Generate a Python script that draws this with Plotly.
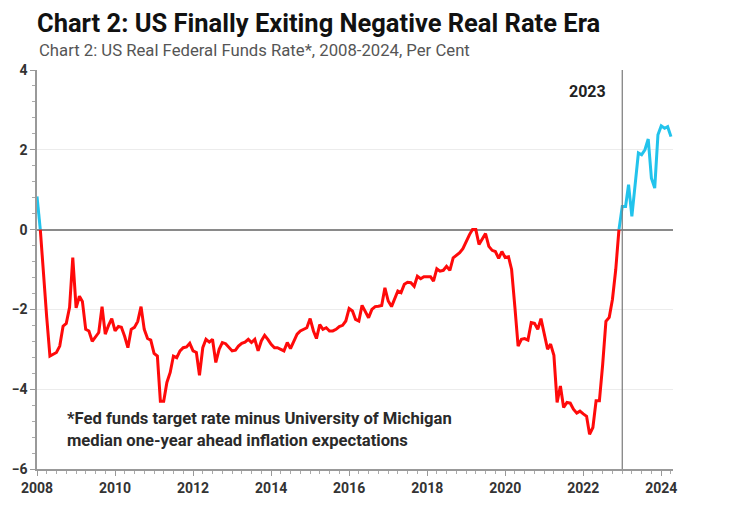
import pandas as pd
import plotly.graph_objects as go

# US real federal funds rate, monthly, Jan 2008 - Apr 2024 (per cent)
real_rate = [
    # 2008
    0.83, 0.0, -1.2, -2.2, -3.17, -3.12, -3.08, -2.92, -2.42, -2.35, -1.95, -0.7,
    # 2009
    -1.96, -1.67, -1.8, -2.5, -2.54, -2.8, -2.68, -2.58, -1.93, -2.62, -2.4, -2.23,
    # 2010
    -2.54, -2.43, -2.45, -2.68, -2.96, -2.5, -2.45, -2.3, -1.93, -2.5, -2.73, -2.77,
    # 2011
    -3.1, -3.17, -4.3, -4.3, -3.83, -3.58, -3.17, -3.21, -3.04, -2.96, -2.94, -2.85,
    # 2012
    -3.04, -3.08, -3.65, -2.96, -2.75, -2.82, -2.75, -3.33, -3.0, -2.83, -2.86, -2.96,
    # 2013
    -3.04, -3.02, -2.92, -2.85, -2.82, -2.75, -2.83, -2.75, -3.04, -2.79, -2.65, -2.75,
    # 2014
    -2.875, -2.96, -2.96, -3.0, -3.04, -2.83, -2.98, -2.8, -2.62, -2.54, -2.5, -2.46,
    # 2015
    -2.23, -2.54, -2.73, -2.38, -2.5, -2.46, -2.54, -2.54, -2.5, -2.43, -2.4, -2.29,
    # 2016
    -1.98, -2.04, -2.25, -2.29, -1.9, -2.08, -2.21, -2.0, -1.93, -1.92, -1.9, -1.46,
    # 2017
    -1.79, -1.93, -1.75, -1.54, -1.58, -1.37, -1.32, -1.33, -1.42, -1.17, -1.23, -1.18,
    # 2018
    -1.18, -1.18, -1.29, -0.98, -1.04, -1.02, -0.92, -1.02, -0.71, -0.65, -0.58, -0.48,
    # 2019
    -0.29, -0.125, 0.0, 0.0, -0.375, -0.22, -0.1, -0.42, -0.52, -0.55, -0.72, -0.55,
    # 2020
    -0.7, -0.68, -1.0, -1.95, -2.92, -2.75, -2.73, -2.77, -2.33, -2.35, -2.5, -2.23,
    # 2021
    -2.58, -3.0, -2.87, -3.15, -4.33, -3.92, -4.46, -4.33, -4.35, -4.5, -4.6, -4.55,
    # 2022
    -4.62, -4.68, -5.13, -4.96, -4.29, -4.29, -3.4, -2.3, -2.2, -1.75, -1.0, 0.0,
    # 2023
    0.58, 0.58, 1.125, 0.33, 1.1, 1.92, 1.875, 2.0, 2.27, 1.29, 1.04, 2.375,
    # 2024
    2.6, 2.54, 2.58, 2.33,
]
start_month = "2008-01-01"
marker_date = "2023-01-01"
marker_label = "2023"
year_ticks = [str(y) for y in range(2008, 2025, 2)]

title_text = "Chart 2: US Finally Exiting Negative Real Rate Era"
subtitle_text = "Chart 2: US Real Federal Funds Rate*, 2008-2024, Per Cent"
note_text = ("*Fed funds target rate minus University of Michigan<br>"
             "median one-year ahead inflation expectations")

RED = "#FF0A0A"
BLUE = "#22C3EC"
FONT = "Roboto, sans-serif"

# page body has an 8px margin; figure is sized to sit inside the 750x510 window
W, H = 742, 502
OFF = 8

months = pd.date_range(start_month, periods=len(real_rate), freq="MS")
neg = [v if v <= 0 else None for v in real_rate]
pos = [v if v >= 0 else None for v in real_rate]

fig = go.Figure()
fig.add_trace(go.Scatter(x=months, y=pos, mode="lines", connectgaps=False,
                         line=dict(color=BLUE, width=3), hoverinfo="skip",
                         showlegend=False))
fig.add_trace(go.Scatter(x=months, y=neg, mode="lines", connectgaps=False,
                         line=dict(color=RED, width=3), hoverinfo="skip",
                         showlegend=False))

fig.add_shape(type="line", xref="x", yref="paper", x0=marker_date, x1=marker_date,
              y0=0, y1=1, line=dict(color="#7a7a7a", width=1.2), layer="above")

fig.add_annotation(x=marker_date, y=3.45, xref="x", yref="y", text=marker_label,
                   showarrow=False, xanchor="right", yanchor="middle", xshift=-14,
                   font=dict(family=FONT, size=16, color="#222", weight=700))

fig.add_annotation(x=0.044, y=0.099, xref="paper", yref="paper", text=note_text,
                   showarrow=False, xanchor="left", yanchor="middle", align="left",
                   font=dict(family=FONT, size=16.6, color="#2a2a2a", weight=700))

fig.add_annotation(x=0, y=1.05, xref="paper", yref="paper", text=subtitle_text,
                   showarrow=False, xanchor="left", yanchor="middle",
                   font=dict(family=FONT, size=16.7, color="#555"))

fig.update_layout(
    width=W, height=H,
    margin=dict(l=37 - OFF, r=77, t=70 - OFF, b=41, autoexpand=False),
    paper_bgcolor="white", plot_bgcolor="white",
    title=dict(text=title_text, x=(37 - OFF) / W, xanchor="left",
               y=1 - 15 / H, yanchor="middle", xref="container",
               yref="container",
               font=dict(family=FONT, size=25.5, color="#111", weight=700)),
    xaxis=dict(type="date", range=[start_month, "2024-04-20"],
               tickvals=[f"{y}-01-01" for y in year_ticks], ticktext=year_ticks,
               showgrid=False, zeroline=False, showline=True, linecolor="#999",
               linewidth=1.5, ticks="outside", ticklen=5, tickcolor="#999",
               minor=dict(dtick="M3", tick0=start_month, ticks="outside", ticklen=3,
                          tickcolor="#aaa", showgrid=False),
               tickfont=dict(family=FONT, size=14, color="#333", weight=700)),
    yaxis=dict(range=[-6, 4], dtick=2, tick0=0, showgrid=True, gridcolor="#ececec",
               gridwidth=1, zeroline=True, zerolinecolor="#8a8a8a", zerolinewidth=1.5,
               showline=True, linecolor="#999", linewidth=1.5, ticks="outside",
               ticklen=5, tickcolor="#999",
               minor=dict(dtick=0.4, tick0=0, ticks="outside", ticklen=3,
                          tickcolor="#aaa", showgrid=False),
               tickfont=dict(family=FONT, size=14, color="#333", weight=700)),
)

fig.write_html("out.html")
